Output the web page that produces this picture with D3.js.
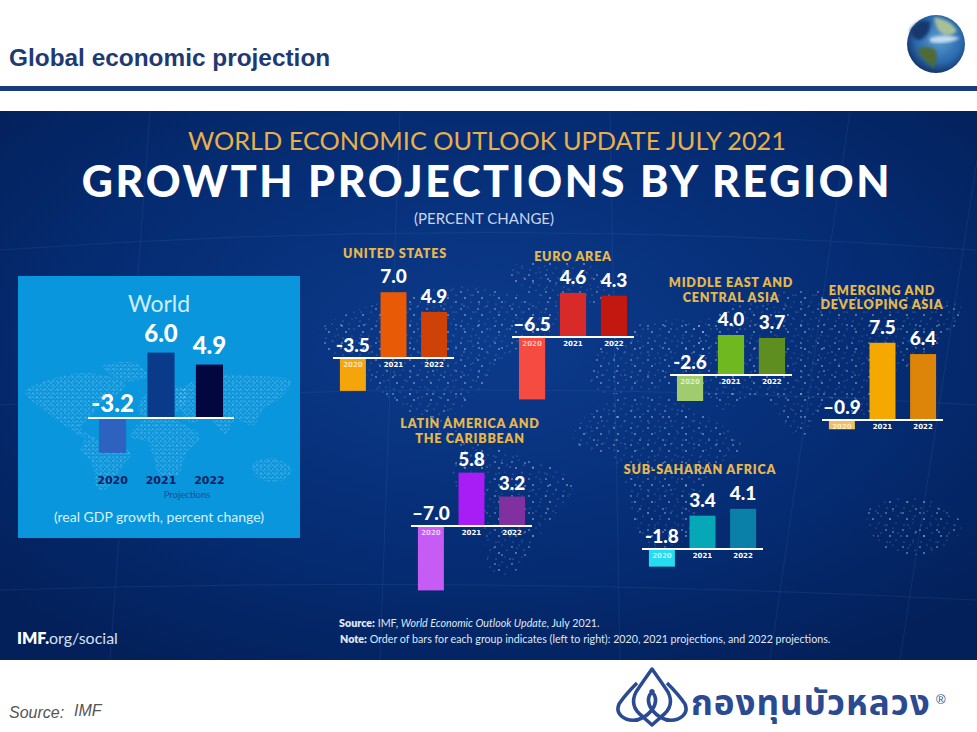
<!DOCTYPE html>
<html>
<head>
<meta charset="utf-8">
<script src="https://cdnjs.cloudflare.com/ajax/libs/d3/7.8.5/d3.min.js"></script>
<style>
  body { margin: 0; background: #fff; overflow: hidden; }
  text { font-family: Lato, "Noto Sans", sans-serif; }
</style>
</head>
<body>
<script>
// Chart values.
var years = ["2020", "2021", "2022"];
var worldValues = [-3.2, 6.0, 4.9];
var usValues = [-3.5, 7.0, 4.9];
var euroValues = [-6.5, 4.6, 4.3];
var meCaValues = [-2.6, 4.0, 3.7];
var asiaValues = [-0.9, 7.5, 6.4];
var latamValues = [-7.0, 5.8, 3.2];
var africaValues = [-1.8, 3.4, 4.1];
var valueText = [
  ["-3.5", "7.0", "4.9"], ["–6.5", "4.6", "4.3"], ["-2.6", "4.0", "3.7"],
  ["–0.9", "7.5", "6.4"], ["–7.0", "5.8", "3.2"], ["-1.8", "3.4", "4.1"]
];
var regionNames = [
  ["UNITED STATES"], ["EURO AREA"], ["MIDDLE EAST AND", "CENTRAL ASIA"],
  ["EMERGING AND", "DEVELOPING ASIA"], ["LATIN AMERICA AND", "THE CARIBBEAN"],
  ["SUB-SAHARAN AFRICA"]
];
var regionValues = [usValues, euroValues, meCaValues, asiaValues, latamValues, africaValues];

// Where each region sits and how it is coloured.
var regionLayout = [
  {x0: 333, x1: 454, base: 358, unit: 9.4, gap: 9, headX: 395, headY: [258]},
  {x0: 512, x1: 634, base: 337, unit: 9.6, gap: 9, headX: 573, headY: [261]},
  {x0: 670, x1: 792, base: 375, unit: 10, gap: 9, headX: 731, headY: [287, 302]},
  {x0: 822, x1: 943, base: 420, unit: 10.3, gap: 9, headX: 882, headY: [295, 309]},
  {x0: 411, x1: 532, base: 526, unit: 9.2, gap: 7, headX: 470, headY: [428, 443]},
  {x0: 642, x1: 763, base: 549, unit: 9.8, gap: 9, headX: 700, headY: [474]}
];
var regionColors = [
  ["#f4a50a", "#e85a05", "#cf4207"],
  ["#f54b40", "#d92a2a", "#c2180f"],
  ["#a0cc6e", "#6fb81f", "#5f8e20"],
  ["#f0c060", "#f5a800", "#dc8508"],
  ["#c75cf5", "#a81cf5", "#80309f"],
  ["#25dcf0", "#06a8b8", "#0a80a8"]
];
var worldColors = ["#2e62c0", "#0a3a8a", "#03073f"];

// Rough continent outlines for the dotted map behind the bars (0-100 space).
var continents = [
  [[2,22],[12,12],[25,8],[38,16],[36,22],[30,28],[26,38],[22,48],[27,55],[22,54],[15,44],[8,34]],
  [[30,3],[42,1],[46,10],[38,14]],
  [[24,56],[33,58],[40,66],[36,78],[31,92],[28,92],[26,74],[22,64]],
  [[43,44],[52,40],[60,46],[65,54],[60,66],[57,82],[51,84],[48,68],[46,58],[40,54]],
  [[43,38],[44,26],[52,18],[60,20],[58,34],[52,38]],
  [[58,20],[70,10],[85,10],[98,14],[94,26],[88,34],[84,46],[78,42],[74,52],[68,40],[62,44],[58,34]],
  [[84,74],[92,70],[98,78],[94,86],[86,84]]
];

var width = 977, height = 732;
var svg = d3.select("body").append("svg")
            .attr("width", width)
            .attr("height", height);
var defs = svg.append("defs");

// Background gradient for the infographic.
var bg = defs.append("radialGradient").attr("id", "bgGrad")
             .attr("cx", "50%").attr("cy", "42%").attr("r", "68%");
bg.append("stop").attr("offset", "0%").attr("stop-color", "#0c3b8c");
bg.append("stop").attr("offset", "60%").attr("stop-color", "#052c73");
bg.append("stop").attr("offset", "100%").attr("stop-color", "#03205a");

var globeGrad = defs.append("radialGradient").attr("id", "globeGrad")
                    .attr("cx", "55%").attr("cy", "42%").attr("r", "62%");
globeGrad.append("stop").attr("offset", "0%").attr("stop-color", "#5c9fd2");
globeGrad.append("stop").attr("offset", "65%").attr("stop-color", "#2a68ac");
globeGrad.append("stop").attr("offset", "100%").attr("stop-color", "#102c60");

defs.append("filter").attr("id", "soft")
    .append("feGaussianBlur").attr("stdDeviation", 1.6);

// Dot texture used to fill the continents.
function dotPattern(id, size, dots) {
  var p = defs.append("pattern").attr("id", id)
              .attr("patternUnits", "userSpaceOnUse")
              .attr("width", size).attr("height", size);
  p.selectAll("circle").data(dots).enter().append("circle")
   .attr("cx", function(d) {return d[0];})
   .attr("cy", function(d) {return d[1];})
   .attr("r", function(d) {return d[2];})
   .attr("fill", "#d5e6ff")
   .attr("opacity", function(d) {return d[3];});
}
dotPattern("bigDots", 17, [[2,3,.8,.7],[9,1,.5,.5],[14,6,.6,.5],[6,9,.9,.55],[12,13,.5,.45],[3,15,.6,.5]]);
dotPattern("bigDots2", 23, [[4,7,.7,.5],[11,19,.5,.55],[19,3,.9,.45],[16,13,.5,.5]]);
dotPattern("smallDots", 4, [[1,1,.5,.85],[3,2.5,.4,.7]]);
dotPattern("smallDots2", 7, [[2,5,.5,.8],[5,2,.45,.7]]);

function drawMap(g, xRange, yRange, fills) {
  var mx = d3.scaleLinear().domain([0, 100]).range(xRange);
  var my = d3.scaleLinear().domain([0, 100]).range(yRange);
  var outline = d3.line()
                  .x(function(d) {return mx(d[0]);})
                  .y(function(d) {return my(d[1]);})
                  .curve(d3.curveCatmullRomClosed);
  fills.forEach(function(fill) {
    g.selectAll("path.land-" + fill.slice(5, -1)).data(continents).enter().append("path")
     .attr("class", "land-" + fill.slice(5, -1))
     .attr("d", outline)
     .attr("fill", fill);
  });
}

// Page header.
svg.append("text").attr("x", 9).attr("y", 66)
   .style("font-family", "'Liberation Sans'")
   .attr("font-size", 24.4).attr("font-weight", 700).attr("fill", "#1f3a73")
   .text("Global economic projection");
svg.append("rect").attr("x", 0).attr("y", 86).attr("width", width).attr("height", 5).attr("fill", "#1a3a80");

// Globe.
var globe = svg.append("g");
globe.append("circle").attr("cx", 936).attr("cy", 44).attr("r", 29).attr("fill", "url(#globeGrad)");
var globeShapes = [
  ["M917 50 Q926 44 936 50 Q938 58 934 68 Q925 62 917 50Z", "#4f6b34"],
  ["M934 17 Q950 19 957 31 Q948 39 941 33 Q935 27 934 17Z", "#a8c09a"],
  ["M910 30 Q918 18 930 21 Q932 34 920 40 Q912 40 910 30Z", "#14376e"],
  ["M930 38 Q945 33 960 38 Q948 45 930 42Z", "#c4dcee"]
];
globe.selectAll("path").data(globeShapes).enter().append("path")
     .attr("d", function(d) {return d[0];})
     .attr("fill", function(d) {return d[1];})
     .attr("filter", "url(#soft)");

// Infographic panel.
svg.append("rect").attr("x", 0).attr("y", 111).attr("width", width).attr("height", 549).attr("fill", "url(#bgGrad)");

// Faint map grid lines.
var gridLines = [
  "M0 250 Q490 215 977 250", "M0 405 Q490 375 977 405", "M0 590 Q490 575 977 600",
  "M150 111 L110 660", "M400 111 L380 660", "M610 111 L620 660", "M850 111 L770 660", "M977 160 L900 660"
];
svg.selectAll("path.grid").data(gridLines).enter().append("path")
   .attr("class", "grid").attr("d", function(d) {return d;})
   .attr("fill", "none").attr("stroke", "#5a86c8").attr("stroke-opacity", 0.14);

drawMap(svg.append("g"), [305, 975], [260, 600], ["url(#bigDots)", "url(#bigDots2)"]);

// Headings.
svg.append("text").attr("x", 487).attr("y", 150).attr("text-anchor", "middle")
   .attr("font-size", 25.3).attr("fill", "#e8b04a")
   .text("WORLD ECONOMIC OUTLOOK UPDATE JULY 2021");
svg.append("text").attr("x", 487).attr("y", 197).attr("text-anchor", "middle")
   .attr("font-size", 43).attr("font-weight", 900).attr("fill", "#ffffff")
   .attr("letter-spacing", 2.65)
   .text("GROWTH PROJECTIONS BY REGION");
svg.append("text").attr("x", 484).attr("y", 224).attr("text-anchor", "middle")
   .attr("font-size", 15).attr("fill", "#c8d6ee")
   .text("(PERCENT CHANGE)");

// One small bar group: band scale across the baseline, linear scale per panel.
function drawBars(g, values, labels, colors, o) {
  var xScale = d3.scaleBand().domain(years).range([o.x0, o.x1])
                 .paddingInner(o.padIn).paddingOuter(o.padOut);
  var yScale = d3.scaleLinear().domain([0, 1]).range([o.base, o.base - o.unit]);

  g.selectAll("rect.bar").data(values).enter().append("rect")
   .attr("class", "bar")
   .attr("x", function(d, i) {return xScale(years[i]);})
   .attr("y", function(d) {return Math.min(yScale(d), yScale(0));})
   .attr("width", xScale.bandwidth())
   .attr("height", function(d) {return Math.abs(yScale(d) - yScale(0));})
   .attr("fill", function(d, i) {return colors[i];});

  g.append("line")
   .attr("x1", o.x0).attr("x2", o.x1)
   .attr("y1", yScale(0)).attr("y2", yScale(0))
   .attr("stroke", o.axisColor).attr("stroke-width", 2);

  g.selectAll("text.value").data(values).enter().append("text")
   .attr("class", "value")
   .attr("x", function(d, i) {return xScale(years[i]) + xScale.bandwidth() / 2;})
   .attr("y", function(d) {return d < 0 ? yScale(0) - o.negGap : yScale(d) - o.posGap;})
   .attr("text-anchor", "middle")
   .attr("font-size", o.valueSize).attr("font-weight", 900).attr("fill", "#ffffff")
   .text(function(d, i) {return labels[i];});

  g.selectAll("text.year").data(years).enter().append("text")
   .attr("class", "year")
   .attr("x", function(d) {return xScale(d) + xScale.bandwidth() / 2;})
   .attr("y", yScale(0) + o.yearGap)
   .attr("text-anchor", "middle")
   .style("font-family", "'DejaVu Sans'")
   .attr("font-size", o.yearSize).attr("font-weight", 700)
   .attr("fill", function(d, i) {return o.yearColor(i);})
   .text(function(d) {return d;});
}

// World box.
var world = svg.append("g");
world.append("rect").attr("x", 18).attr("y", 276).attr("width", 282).attr("height", 262).attr("fill", "#0a96dc");
drawMap(world, [20, 297], [362, 500], ["url(#smallDots)", "url(#smallDots2)"]);
world.append("text").attr("x", 159).attr("y", 312).attr("text-anchor", "middle")
     .attr("font-size", 23).attr("fill", "#cdeefc").text("World");
drawBars(world, worldValues, ["-3.2", "6.0", "4.9"], worldColors, {
  x0: 88, x1: 234, base: 418, unit: 10.9, padIn: 0.44, padOut: 0.227,
  axisColor: "#ffffff", negGap: 6, posGap: 11, valueSize: 24, yearGap: 66, yearSize: 11,
  yearColor: function() {return "#0a2160";}
});
world.append("text").attr("x", 187).attr("y", 498).attr("text-anchor", "middle")
     .attr("font-size", 9.5).attr("fill", "#1a4a96").text("Projections");
world.append("text").attr("x", 159).attr("y", 522).attr("text-anchor", "middle")
     .attr("font-size", 14).attr("fill", "#d8f0fb").text("(real GDP growth, percent change)");

// Regional groups.
regionValues.forEach(function(values, i) {
  var l = regionLayout[i];
  var g = svg.append("g");
  drawBars(g, values, valueText[i], regionColors[i], {
    x0: l.x0, x1: l.x1, base: l.base, unit: l.unit, padIn: 0.36, padOut: 0.17,
    axisColor: "#ffffff", negGap: 6, posGap: l.gap, valueSize: 19, yearGap: 9, yearSize: 7,
    yearColor: function(k) {return k === 0 ? "#ffffffb0" : "#ffffff";}
  });
  regionNames[i].forEach(function(line, k) {
    g.append("text").attr("x", l.headX).attr("y", l.headY[k]).attr("text-anchor", "middle")
     .attr("font-size", 12.6).attr("font-weight", 800).attr("letter-spacing", 0.75).attr("fill", "#e5b84c")
     .text(line);
  });
});

// Footer of the infographic.
var imf = svg.append("text").attr("x", 17).attr("y", 644).attr("font-size", 16).attr("fill", "#ffffff");
imf.append("tspan").attr("font-weight", 800).text("IMF.");
imf.append("tspan").attr("fill", "#d5e0f2").text("org/social");

var src = svg.append("text").attr("x", 339).attr("y", 627).attr("font-size", 10.7).attr("fill", "#dfe7f5");
src.append("tspan").attr("font-weight", 800).text("Source:");
src.append("tspan").text(" IMF, ");
src.append("tspan").attr("font-style", "italic").text("World Economic Outlook Update");
src.append("tspan").text(", July 2021.");
var note = svg.append("text").attr("x", 340).attr("y", 643).attr("font-size", 10.7).attr("fill", "#dfe7f5");
note.append("tspan").attr("font-weight", 800).text("Note:");
note.append("tspan").text("  Order of bars for each group indicates (left to right): 2020, 2021 projections, and 2022 projections.");

// Page footer.
svg.append("text").attr("x", 9).attr("y", 718)
   .style("font-family", "'Liberation Sans'").attr("font-style", "italic")
   .attr("font-size", 16).attr("fill", "#555").text("Source:");
svg.append("text").attr("x", 74).attr("y", 716)
   .style("font-family", "'Liberation Sans'").attr("font-style", "italic")
   .attr("font-size", 16).attr("fill", "#555").text("IMF");

// Lotus logo and fund name.
var logoPetals = [
  "M652 669 Q662 683 668 692 Q675 706 662 716 L652 725 L642 716 Q629 706 636 692 Q642 683 652 669Z",
  "M637 683 Q625 695 619 704 Q615 714 626 719 Q640 724 652 710 Q660 698 650 690",
  "M667 683 Q679 695 685 704 Q689 714 678 719 Q664 724 652 710 Q644 698 654 690"
];
svg.selectAll("path.logo").data(logoPetals).enter().append("path")
   .attr("class", "logo").attr("d", function(d) {return d;})
   .attr("fill", "none").attr("stroke", "#2a4a92").attr("stroke-width", 3.5).attr("stroke-linejoin", "round");
svg.append("text").attr("x", 691).attr("y", 715)
   .style("font-family", "'Noto Sans Thai', 'Noto Sans', sans-serif")
   .attr("font-size", 35).attr("font-weight", 700).attr("letter-spacing", 1).attr("fill", "#2a4a92")
   .text("กองทุนบัวหลวง");
svg.append("text").attr("x", 936).attr("y", 704)
   .style("font-family", "'Liberation Sans'")
   .attr("font-size", 13).attr("fill", "#2a4a92").text("®");
</script>
</body>
</html>
